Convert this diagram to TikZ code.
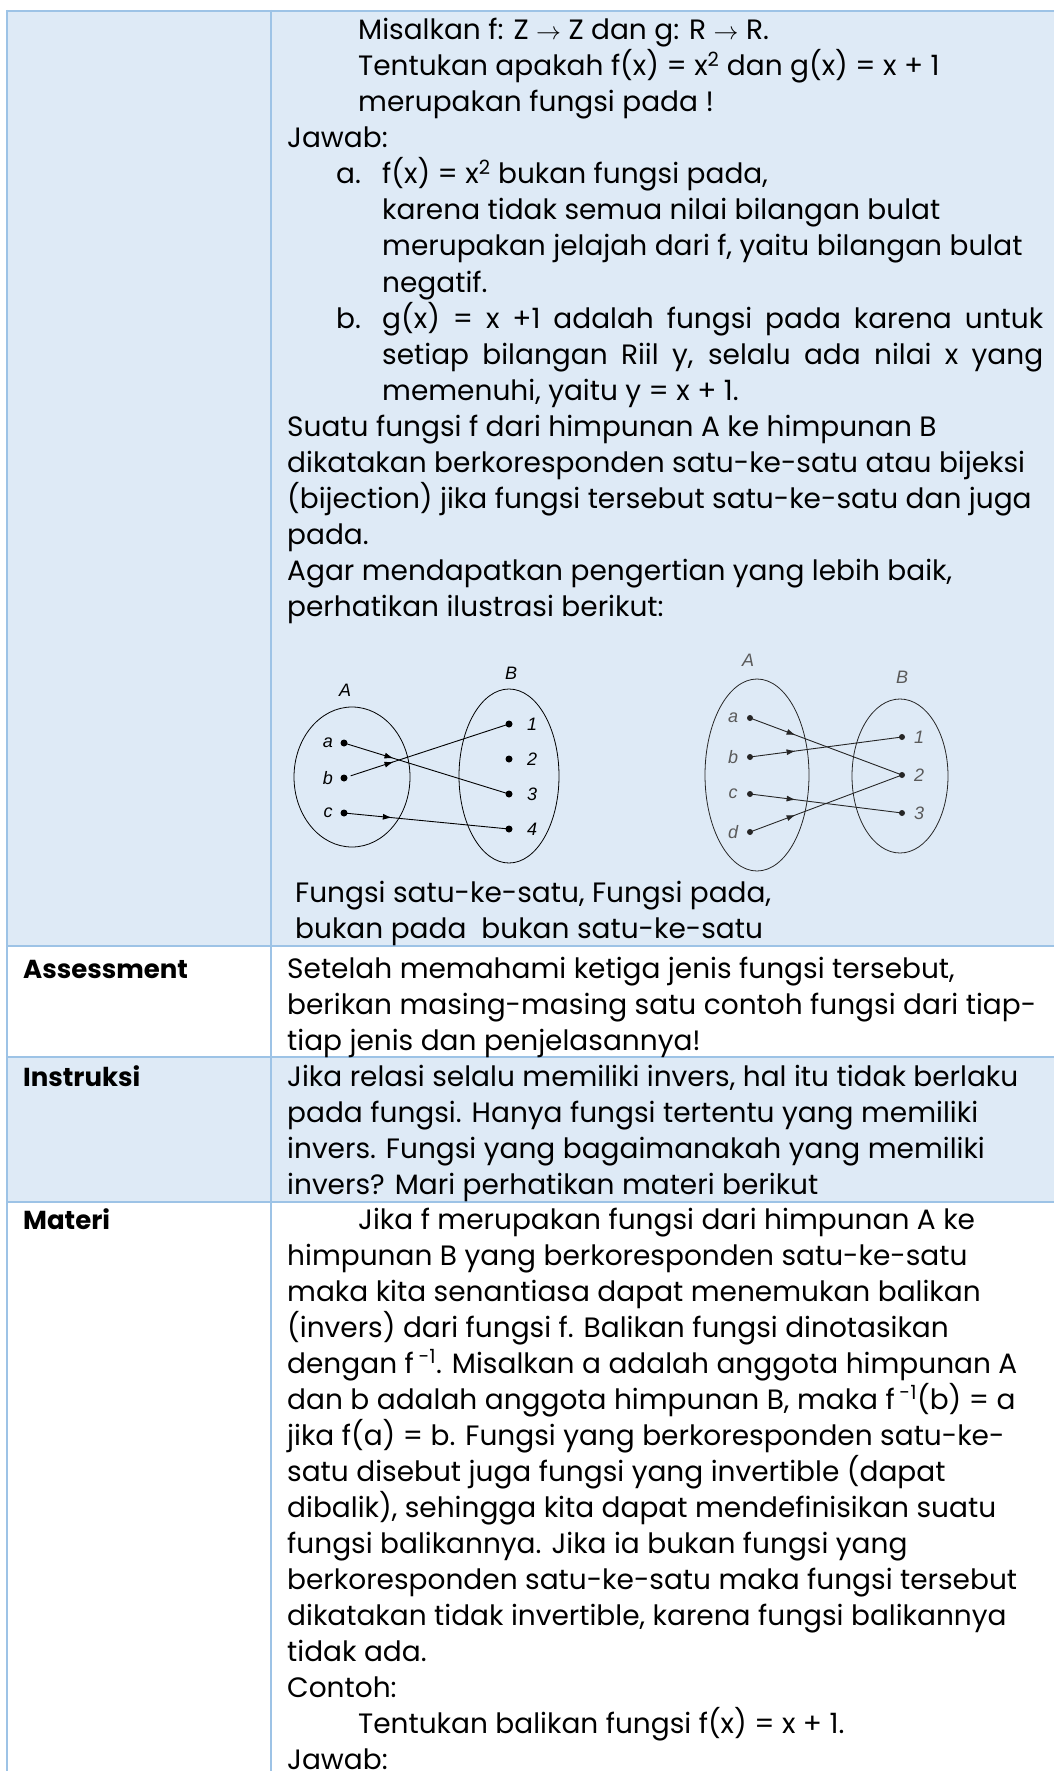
\documentclass[tikz,border=0pt]{standalone}
\usepackage{fontspec}
\newfontfamily\bodyfont{Poppins}
\newfontfamily\diagfont{Liberation Sans}
\usetikzlibrary{arrows.meta,shapes.geometric,decorations.markings}
\definecolor{cellblue}{HTML}{DEEAF6}
\definecolor{gridblue}{HTML}{9DC3E6}
\definecolor{labgray}{HTML}{5A5A5A}
\newcommand\bodysize{\fontsize{28}{36}\selectfont}
\tikzset{>=Latex}

\begin{document}
\begin{tikzpicture}[x=1pt,y=-1pt,
    txt/.style={anchor=base west,inner sep=0pt,font=\bodyfont\bodysize},
    head/.style={txt,font=\bodyfont\bfseries\fontsize{26}{36}\selectfont},
    grid/.style={gridblue,line width=2pt},
    dot/.style={circle,fill,inner sep=0pt,minimum size=7pt},
    set/.style={draw,ellipse,inner sep=0pt,line width=0.8pt},
    lab/.style={inner sep=0pt,font=\diagfont\itshape\fontsize{18}{18}\selectfont},
    mid arrow/.style={postaction={decorate},decoration={markings,
        mark=at position #1 with {\arrow{Latex[length=9pt,width=6pt]}}}}]
  \useasboundingbox (0,0) rectangle (1054,1771);

  % table rows
  \fill[cellblue] (7,11) rectangle (1060,946);
  \fill[white] (7,946) rectangle (1060,1057);
  \fill[cellblue] (7,1057) rectangle (1060,1202);
  \fill[white] (7,1202) rectangle (1060,1780);
  \foreach \y in {11,946,1057,1202}
    \draw[grid] (6,\y) -- (1060,\y);
  \foreach \x in {7,271}
    \draw[grid] (\x,10) -- (\x,1780);

  % first row
  \node[txt] (t1) at (358,40) {Misalkan f: Z $\rightarrow$ Z dan g: R $\rightarrow$ R.};
  \node[txt] (t2) at (358,76) {Tentukan apakah f(x) = x\textsuperscript{2} dan g(x) = x + 1};
  \node[txt] (t3) at (358,112) {merupakan fungsi pada !};
  \node[txt] (t4) at (287,148) {Jawab:};
  \node[txt] (ia) at (336,184) {a.};
  \node[txt] (t5) at (382,184) {f(x) = x\textsuperscript{2} bukan fungsi pada,};
  \node[txt] (t6) at (382,220) {karena tidak semua nilai bilangan bulat};
  \node[txt] (t7) at (382,256) {merupakan jelajah dari f, yaitu bilangan bulat};
  \node[txt] (t8) at (382,292) {negatif.};
  \node[txt] (ib) at (336,328) {b.};
  \node[txt] (t9) at (382,328) {\makebox[661pt][s]{g(x) = x +1 adalah fungsi pada karena untuk}};
  \node[txt] (t10) at (382,364) {\makebox[661pt][s]{setiap bilangan Riil y, selalu ada nilai x yang}};
  \node[txt] (t11) at (382,400) {memenuhi, yaitu y = x + 1.};
  \foreach \t [count=\i from 0] in {%
      {Suatu fungsi f dari himpunan A ke himpunan B},
      {dikatakan berkoresponden satu-ke-satu atau bijeksi},
      {(bijection) jika fungsi tersebut satu-ke-satu dan juga},
      {pada.},
      {Agar mendapatkan pengertian yang lebih baik,},
      {perhatikan ilustrasi berikut:}}
    \node[txt] (s\i) at (287,436+36*\i) {\t};

  % satu-ke-satu, bukan pada
  \node[set,minimum width=116pt,minimum height=140pt] (A1) at (352,777) {};
  \node[set,minimum width=100pt,minimum height=174pt] (B1) at (509,776) {};
  \node[lab] (lA1) at (345,690) {A};
  \node[lab] (lB1) at (511,673) {B};
  \foreach \n/\y in {a/743,b/778,c/813}{
    \node[dot] (p\n) at (344,\y) {};
    \node[lab] (l\n) at (328,\y) {\n};
  }
  \foreach \n/\y in {1/724,2/759,3/794,4/829}{
    \node[dot] (q\n) at (509,\y) {};
    \node[lab] (m\n) at (532,\y) {\n};
  }
  \draw[line width=0.9pt,mid arrow=0.3] (pa.center) -- (q3.center);
  \draw[line width=0.9pt,mid arrow=0.3,shorten <=7pt] (pb.center) -- (q1.center);
  \draw[line width=0.9pt,mid arrow=0.29] (pc.center) -- (q4.center);

  % pada, bukan satu-ke-satu
  \begin{scope}[labgray]
    \node[set,black!85,minimum width=104pt,minimum height=192pt] (A2) at (757,775) {};
    \node[set,black!85,minimum width=96pt,minimum height=154pt] (B2) at (900,776) {};
    \node[lab] (lA2) at (748,660) {A};
    \node[lab] (lB2) at (902,677) {B};
    \foreach \n/\y in {a/718,b/757,c/794,d/832}{
      \node[dot,black!85,minimum size=6pt] (u\n) at (750,\y) {};
      \node[lab] (v\n) at (733,\y) {\n};
    }
    \foreach \n/\y in {1/737,2/775,3/813}{
      \node[dot,black!85,minimum size=6pt] (w\n) at (902,\y) {};
      \node[lab] (z\n) at (919,\y) {\n};
    }
  \end{scope}
  \draw[black!85,line width=0.9pt,mid arrow=0.3] (ua.center) -- (w2.center);
  \draw[black!85,line width=0.9pt,mid arrow=0.3] (ub.center) -- (w1.center);
  \draw[black!85,line width=0.9pt,mid arrow=0.3] (uc.center) -- (w3.center);
  \draw[black!85,line width=0.9pt,mid arrow=0.3] (ud.center) -- (w2.center);

  \node[txt] (cap1) at (295,902) {Fungsi satu-ke-satu, Fungsi pada,};
  \node[txt] (cap2) at (295,938) {bukan pada\ \ bukan satu-ke-satu};

  % Assessment
  \node[head] (hAs) at (23,978) {Assessment};
  \foreach \t [count=\i from 0] in {%
      {Setelah memahami ketiga jenis fungsi tersebut,},
      {berikan masing-masing satu contoh fungsi dari tiap-},
      {tiap jenis dan penjelasannya!}}
    \node[txt] (as\i) at (287,978+36*\i) {\t};

  % Instruksi
  \node[head] (hIn) at (23,1086) {Instruksi};
  \foreach \t [count=\i from 0] in {%
      {Jika relasi selalu memiliki invers, hal itu tidak berlaku},
      {pada fungsi. Hanya fungsi tertentu yang memiliki},
      {invers. Fungsi yang bagaimanakah yang memiliki},
      {invers? Mari perhatikan materi berikut}}
    \node[txt] (in\i) at (287,1086+36*\i) {\t};

  % Materi
  \node[head] (hMa) at (23,1229) {Materi};
  \node[txt] (ma0) at (358,1229) {Jika f merupakan fungsi dari himpunan A ke};
  \foreach \t [count=\i from 1] in {%
      {himpunan B yang berkoresponden satu-ke-satu},
      {maka kita senantiasa dapat menemukan balikan},
      {(invers) dari fungsi f. Balikan fungsi dinotasikan},
      {dengan f\,\textsuperscript{-1}. Misalkan a adalah anggota himpunan A},
      {dan b adalah anggota himpunan B, maka f\,\textsuperscript{-1}(b) = a},
      {jika f(a) = b. Fungsi yang berkoresponden satu-ke-},
      {satu disebut juga fungsi yang invertible (dapat},
      {dibalik), sehingga kita dapat mendefinisikan suatu},
      {fungsi balikannya. Jika ia bukan fungsi yang},
      {berkoresponden satu-ke-satu maka fungsi tersebut},
      {dikatakan tidak invertible, karena fungsi balikannya},
      {tidak ada.},
      {Contoh:}}
    \node[txt] (ma\i) at (287,1229+36*\i) {\t};
  \node[txt] (ma14) at (358,1733) {Tentukan balikan fungsi f(x) = x + 1.};
  \node[txt] (ma15) at (287,1769) {Jawab:};
\end{tikzpicture}
\end{document}
